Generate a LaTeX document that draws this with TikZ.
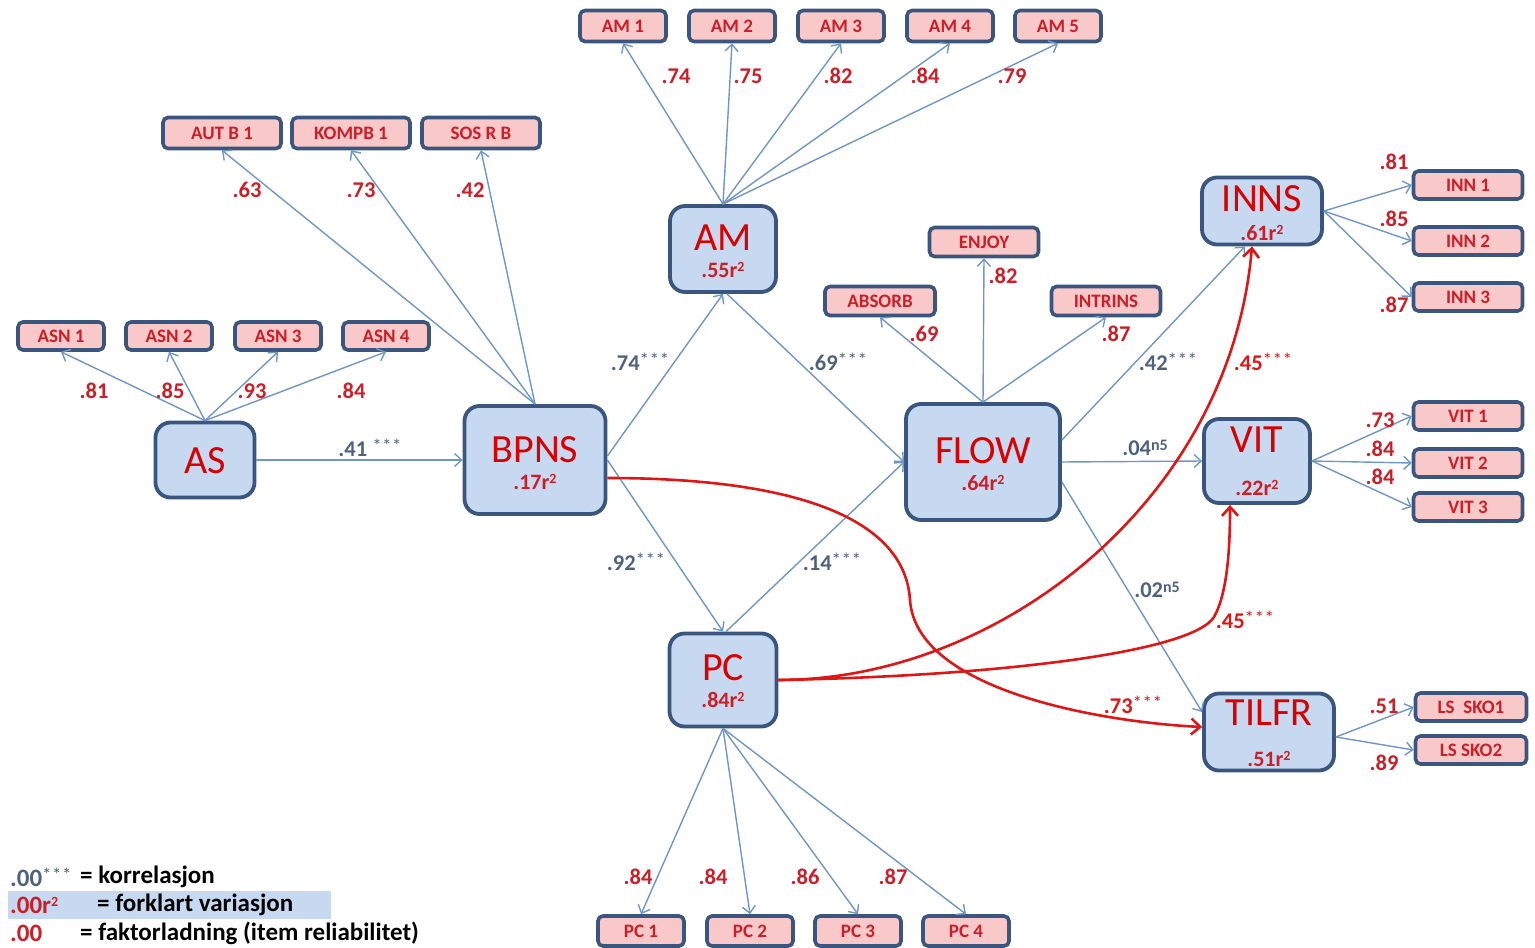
\documentclass[tikz,border=0pt]{standalone}
\usepackage{fontspec}
\setmainfont{Carlito}
\usetikzlibrary{arrows.meta,calc}
\definecolor{bordc}{RGB}{58,86,126}
\definecolor{latfill}{RGB}{198,217,240}
\definecolor{itemfill}{RGB}{249,200,200}
\definecolor{itemred}{RGB}{205,30,40}
\definecolor{lineblue}{RGB}{112,150,198}
\definecolor{lblblue}{RGB}{78,98,128}
\definecolor{arrred}{RGB}{222,22,22}
\tikzset{
  item/.style={draw=bordc, line width=3.6pt, fill=itemfill, rounded corners=5pt,
    inner sep=0pt, minimum width=86pt, minimum height=28pt, text=itemred,
    font=\fontsize{19}{19}\selectfont\bfseries},
  latent/.style={draw=bordc, line width=3.8pt, fill=latfill, rounded corners=15pt, inner sep=0pt},
  latname/.style={text=red!85!black, font=\fontsize{40}{40}\selectfont, inner sep=0pt},
  rsq/.style={text=itemred, font=\fontsize{22}{22}\selectfont\bfseries, inner sep=0pt},
  ld/.style={text=itemred, font=\fontsize{22.5}{22.5}\selectfont\bfseries, inner sep=0pt},
  lb/.style={text=lblblue, font=\fontsize{22.5}{22.5}\selectfont\bfseries, inner sep=0pt},
  lr/.style={text=arrred, font=\fontsize{22.5}{22.5}\selectfont\bfseries, inner sep=0pt},
  ln/.style={draw=lineblue, line width=1.4pt, -{Straight Barb[length=7pt,width=13pt,line width=1.4pt]}},
  rd/.style={draw=arrred, line width=2.6pt, -{Straight Barb[length=9pt,width=16pt,line width=2.6pt]}},
  leg/.style={font=\fontsize{25}{25}\selectfont\bfseries, inner sep=0pt, anchor=west}
}
\newcommand{\stars}{\raisebox{0.4ex}{\fontsize{19}{19}\selectfont\mdseries *\kern0.5pt*\kern0.5pt*}}
\newcommand{\nfive}{\raisebox{0.5ex}{\fontsize{16}{16}\selectfont n5}}
\newcommand{\rsqr}{r\raisebox{0.55ex}{\fontsize{14}{14}\selectfont 2}}
\begin{document}
\begin{tikzpicture}[x=1pt,y=-1pt]
\useasboundingbox (0,0) rectangle (1535,948);
% legend highlight
\fill[latfill] (8,891) rectangle (331,919);

% item nodes
\node[item] (ASN1) at (61,336) {ASN 1};
\node[item] (ASN2) at (169,336) {ASN 2};
\node[item] (ASN3) at (278,336) {ASN 3};
\node[item] (ASN4) at (386,336) {ASN 4};
\node[item, minimum width=118pt, minimum height=31pt] (AUTB) at (222,133) {AUT B 1};
\node[item, minimum width=118pt, minimum height=31pt] (KOMPB) at (351,133) {KOMPB 1};
\node[item, minimum width=118pt, minimum height=31pt] (SOSRB) at (481,133) {SOS R B};
\node[item, minimum height=31pt] (AM1) at (623,26) {AM 1};
\node[item, minimum height=31pt] (AM2) at (732,26) {AM 2};
\node[item, minimum height=31pt] (AM3) at (841,26) {AM 3};
\node[item, minimum height=31pt] (AM4) at (950,26) {AM 4};
\node[item, minimum height=31pt] (AM5) at (1058,26) {AM 5};
\node[item, minimum width=109pt, minimum height=29pt] (ENJOY) at (984,242) {ENJOY};
\node[item, minimum width=110pt, minimum height=29pt] (ABSORB) at (880,301) {ABSORB};
\node[item, minimum width=109pt, minimum height=29pt] (INTRINS) at (1106,301) {INTRINS};
\node[item, minimum width=109pt] (INN1) at (1468,185) {INN 1};
\node[item, minimum width=109pt] (INN2) at (1468,241) {INN 2};
\node[item, minimum width=109pt] (INN3) at (1468,297) {INN 3};
\node[item, minimum width=109pt] (VIT1) at (1468,416) {VIT 1};
\node[item, minimum width=109pt] (VIT2) at (1468,463) {VIT 2};
\node[item, minimum width=109pt] (VIT3) at (1468,507) {VIT 3};
\node[item, minimum width=111pt] (LS1) at (1471,707) {LS~ SKO1};
\node[item, minimum width=111pt] (LS2) at (1471,750) {LS SKO2};
\node[item, minimum height=30pt] (PC1) at (641,931) {PC 1};
\node[item, minimum height=30pt] (PC2) at (750,931) {PC 2};
\node[item, minimum height=30pt] (PC3) at (858,931) {PC 3};
\node[item, minimum height=30pt] (PC4) at (966,931) {PC 4};

% latent nodes
\node[latent, minimum width=99pt, minimum height=75pt] (AS) at (205,460) {};
\node[latent, minimum width=141pt, minimum height=108pt] (BPNS) at (535,460) {};
\node[latent, minimum width=106pt, minimum height=86pt] (AM) at (723,249) {};
\node[latent, minimum width=154pt, minimum height=116pt] (FLOW) at (983,462) {};
\node[latent, minimum width=120pt, minimum height=67pt] (INNS) at (1262,211) {};
\node[latent, minimum width=106pt, minimum height=84pt] (VIT) at (1257,461) {};
\node[latent, minimum width=130pt, minimum height=77pt] (TILFR) at (1269,732) {};
\node[latent, minimum width=107pt, minimum height=93pt] (PC) at (723,680) {};

\node[latname] (ASn) at (205,461) {AS};
\node[latname] (BPNSn) at (535,450) {BPNS};
\node[rsq] (BPNSr) at (535,482) {.17\rsqr};
\node[latname] (AMn) at (723,238) {AM};
\node[rsq] (AMr) at (723,270) {.55\rsqr};
\node[latname] (FLOWn) at (983,451) {FLOW};
\node[rsq] (FLOWr) at (983,483) {.64\rsqr};
\node[latname] (INNSn) at (1262,199) {INNS};
\node[rsq] (INNSr) at (1262,233) {.61\rsqr};
\node[latname] (VITn) at (1257,440) {VIT};
\node[rsq] (VITr) at (1257,488) {.22\rsqr};
\node[latname] (TILFRn) at (1269,713) {TILFR};
\node[rsq] (TILFRr) at (1269,759) {.51\rsqr};
\node[latname] (PCn) at (723,668) {PC};
\node[rsq] (PCr) at (723,700) {.84\rsqr};

% blue connectors
\foreach \t in {ASN1,ASN2,ASN3,ASN4} \draw[ln] (AS.north) -- (\t.south);
\draw[ln] (AS.east) -- (BPNS.west);
\foreach \t in {AUTB,KOMPB,SOSRB} \draw[ln] (BPNS.north) -- (\t.south);
\draw[ln] ($(BPNS.east)+(0,-4)$) -- (AM.south);
\draw[ln] (BPNS.east) -- (PC.north);
\foreach \t in {AM1,AM2,AM3,AM4,AM5} \draw[ln] (AM.north) -- (\t.south);
\draw[ln] ($(AM.south)+(4,0)$) -- (FLOW.west);
\draw[ln] ($(PC.north)+(3,0)$) -- (FLOW.west);
\foreach \t in {ENJOY,ABSORB,INTRINS} \draw[ln] (FLOW.north) -- (\t.south);
\draw[ln] ($(FLOW.east)+(0,-22)$) -- ($(INNS.south)+(-17,0)$);
\draw[ln] (FLOW.east) -- (VIT.west);
\draw[ln] ($(FLOW.east)+(0,20)$) -- ($(TILFR.west)+(0,-20)$);
\foreach \t in {INN1,INN2,INN3} \draw[ln] (INNS.east) -- (\t.west);
\foreach \t in {VIT1,VIT2,VIT3} \draw[ln] (VIT.east) -- (\t.west);
\foreach \t in {LS1,LS2} \draw[ln] ($(TILFR.east)+(0,5)$) -- (\t.west);
\foreach \t in {PC1,PC2,PC3,PC4} \draw[ln] (PC.south) -- (\t.north);

% red connectors
\draw[rd] ($(BPNS.east)+(0,18)$) .. controls (800,478) and (905,520) .. (910,600)
  .. controls (916,690) and (1100,722) .. ($(TILFR.west)+(0,-5)$);
\draw[rd] (PC.east) .. controls (1000,680) and (1230,500) .. ($(INNS.south)+(-10,0)$);
\draw[rd] (PC.east) .. controls (1000,676) and (1192,652) .. (1214,617)
  .. controls (1228,592) and (1230,545) .. ($(VIT.south)+(-27,0)$);

% loading labels
\node[ld] (a1) at (94,391) {.81};
\node[ld] (a2) at (170,391) {.85};
\node[ld] (a3) at (252,391) {.93};
\node[ld] (a4) at (351,391) {.84};
\node[ld] (b1) at (247,190) {.63};
\node[ld] (b2) at (361,190) {.73};
\node[ld] (b3) at (470,190) {.42};
\node[ld] (m1) at (676,76) {.74};
\node[ld] (m2) at (748,76) {.75};
\node[ld] (m3) at (838,76) {.82};
\node[ld] (m4) at (925,76) {.84};
\node[ld] (m5) at (1012,76) {.79};
\node[ld] (f1) at (1003,276) {.82};
\node[ld] (f2) at (924,334) {.69};
\node[ld] (f3) at (1116,334) {.87};
\node[ld] (i1) at (1394,162) {.81};
\node[ld] (i2) at (1394,219) {.85};
\node[ld] (i3) at (1394,305) {.87};
\node[ld] (v1) at (1380,420) {.73};
\node[ld] (v2) at (1380,449) {.84};
\node[ld] (v3) at (1380,477) {.84};
\node[ld] (s1) at (1384,706) {.51};
\node[ld] (s2) at (1384,763) {.89};
\node[ld] (p1) at (638,877) {.84};
\node[ld] (p2) at (713,877) {.84};
\node[ld] (p3) at (805,877) {.86};
\node[ld] (p4) at (893,877) {.87};

% path labels
\node[lb] (c1) at (370,448) {.41 \stars};
\node[lb] (c2) at (640,362) {.74\stars};
\node[lb] (c3) at (838,362) {.69\stars};
\node[lb] (c4) at (636,562) {.92\stars};
\node[lb] (c5) at (832,562) {.14\stars};
\node[lb] (c6) at (1168,362) {.42\stars};
\node[lb] (c7) at (1145,448) {.04\nfive};
\node[lb] (c8) at (1157,590) {.02\nfive};
\node[lr] (c9) at (1263,362) {.45\stars};
\node[lr] (c10) at (1245,620) {.45\stars};
\node[lr] (c11) at (1133,705) {.73\stars};

% legend
\node[leg, text=lblblue] (g1) at (10,877) {.00\stars};
\node[leg] (g1t) at (80,877) {= korrelasjon};
\node[leg, text=itemred] (g2) at (10,905) {.00\rsqr};
\node[leg] (g2t) at (97,905) {= forklart variasjon};
\node[leg, text=itemred] (g3) at (10,933) {.00};
\node[leg] (g3t) at (80,933) {= faktorladning (item reliabilitet)};
\end{tikzpicture}
\end{document}
